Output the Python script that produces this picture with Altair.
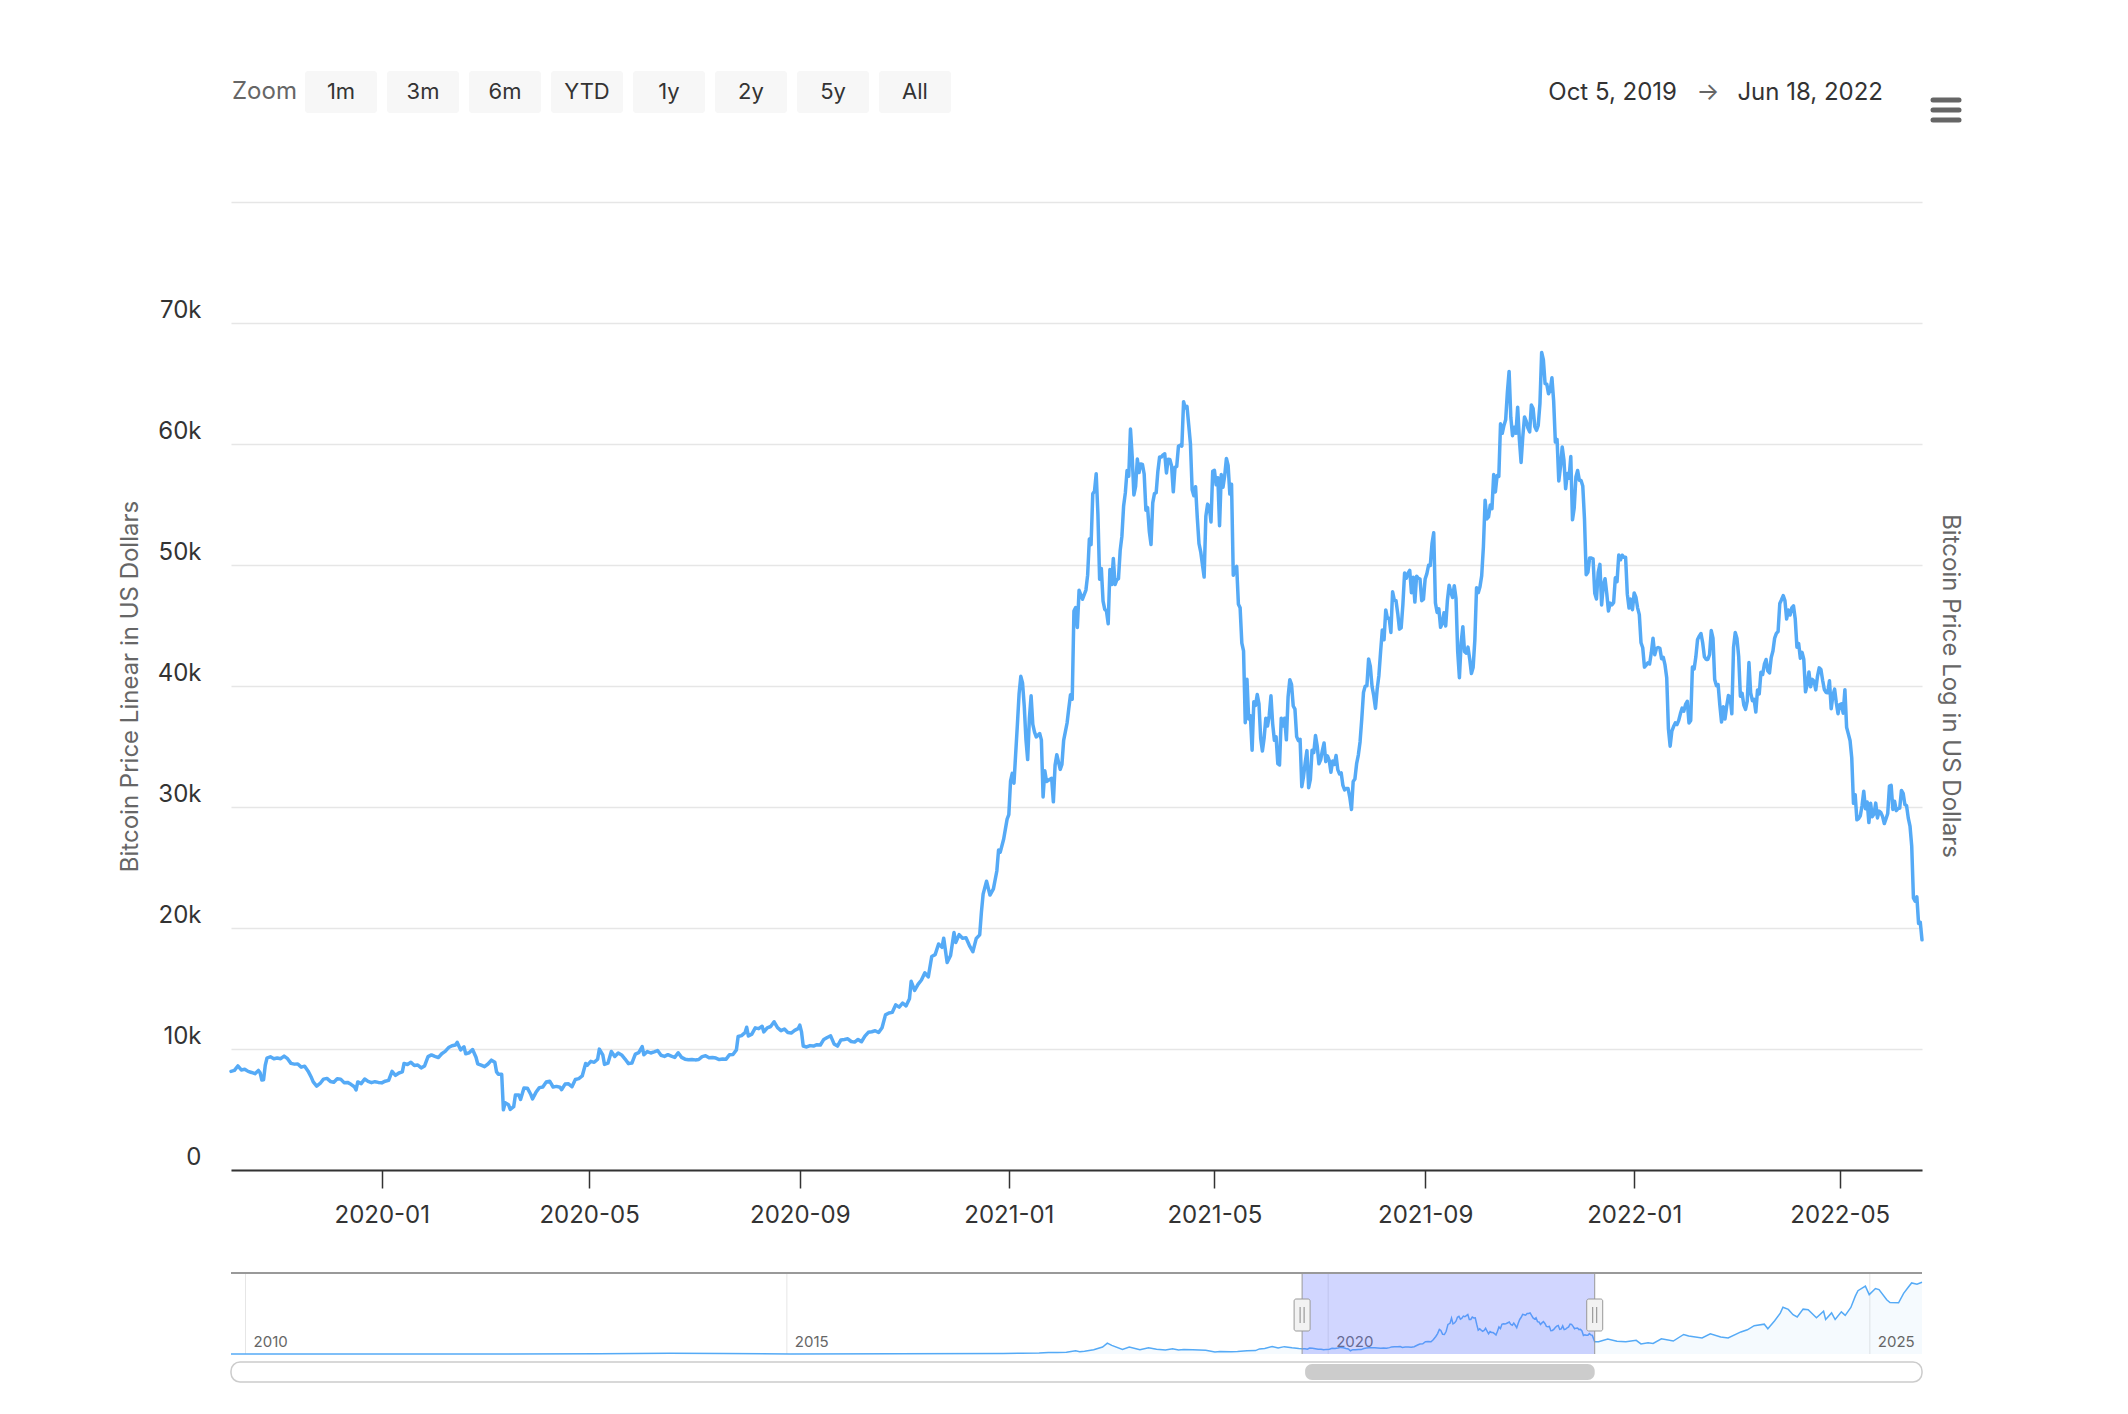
import altair as alt
import pandas as pd
from datetime import date

# ---------------- data ----------------
btc_2019 = [
    ("2019-10-05", 8150), ("2019-10-07", 8230), ("2019-10-09", 8600), ("2019-10-11", 8270),
    ("2019-10-13", 8330), ("2019-10-15", 8150), ("2019-10-17", 8060), ("2019-10-19", 7960),
    ("2019-10-21", 8230), ("2019-10-22", 8030), ("2019-10-23", 7440), ("2019-10-24", 7460),
    ("2019-10-25", 8660), ("2019-10-26", 9240), ("2019-10-28", 9360), ("2019-10-30", 9200),
    ("2019-11-01", 9260), ("2019-11-03", 9200), ("2019-11-05", 9410), ("2019-11-07", 9200),
    ("2019-11-09", 8810), ("2019-11-11", 8750), ("2019-11-13", 8760), ("2019-11-15", 8500),
    ("2019-11-17", 8580), ("2019-11-19", 8170), ("2019-11-21", 7620), ("2019-11-22", 7280),
    ("2019-11-24", 6930), ("2019-11-26", 7150), ("2019-11-28", 7510), ("2019-11-30", 7570),
    ("2019-12-02", 7320), ("2019-12-04", 7250), ("2019-12-06", 7540), ("2019-12-08", 7510),
    ("2019-12-10", 7220), ("2019-12-12", 7240), ("2019-12-14", 7080), ("2019-12-16", 6880),
    ("2019-12-17", 6620), ("2019-12-18", 7280), ("2019-12-20", 7140), ("2019-12-22", 7520),
    ("2019-12-24", 7320), ("2019-12-26", 7220), ("2019-12-28", 7300), ("2019-12-30", 7240),
]
btc_2020 = [
    ("2020-01-01", 7200), ("2020-01-03", 7340), ("2020-01-05", 7410), ("2020-01-07", 8160),
    ("2020-01-09", 7820), ("2020-01-11", 8020), ("2020-01-13", 8110), ("2020-01-14", 8810),
    ("2020-01-16", 8720), ("2020-01-18", 8900), ("2020-01-20", 8630), ("2020-01-22", 8680),
    ("2020-01-24", 8440), ("2020-01-26", 8600), ("2020-01-28", 9370), ("2020-01-30", 9510),
    ("2020-02-01", 9390), ("2020-02-03", 9290), ("2020-02-05", 9610), ("2020-02-07", 9800),
    ("2020-02-09", 10120), ("2020-02-11", 10270), ("2020-02-13", 10330), ("2020-02-14", 10550),
    ("2020-02-16", 9930), ("2020-02-18", 10180), ("2020-02-19", 9600), ("2020-02-21", 9690),
    ("2020-02-23", 9960), ("2020-02-25", 9320), ("2020-02-26", 8780), ("2020-02-28", 8670),
    ("2020-03-01", 8540), ("2020-03-03", 8760), ("2020-03-05", 9080), ("2020-03-07", 8910),
    ("2020-03-08", 8110), ("2020-03-09", 7920), ("2020-03-11", 7910), ("2020-03-12", 4970),
    ("2020-03-13", 5560), ("2020-03-15", 5390), ("2020-03-16", 5010), ("2020-03-18", 5230),
    ("2020-03-19", 6190), ("2020-03-21", 6190), ("2020-03-22", 5830), ("2020-03-24", 6770),
    ("2020-03-26", 6760), ("2020-03-28", 6240), ("2020-03-29", 5880), ("2020-03-31", 6420),
    ("2020-04-02", 6810), ("2020-04-04", 6860), ("2020-04-06", 7270), ("2020-04-08", 7340),
    ("2020-04-10", 6860), ("2020-04-12", 6910), ("2020-04-14", 6840), ("2020-04-15", 6640),
    ("2020-04-17", 7100), ("2020-04-19", 7120), ("2020-04-21", 6880), ("2020-04-23", 7480),
    ("2020-04-25", 7550), ("2020-04-27", 7770), ("2020-04-29", 8800), ("2020-04-30", 8660),
    ("2020-05-02", 8980), ("2020-05-04", 8900), ("2020-05-06", 9160), ("2020-05-07", 9990),
    ("2020-05-09", 9520), ("2020-05-10", 8730), ("2020-05-12", 8830), ("2020-05-14", 9790),
    ("2020-05-16", 9380), ("2020-05-18", 9670), ("2020-05-20", 9510), ("2020-05-22", 9170),
    ("2020-05-24", 8790), ("2020-05-26", 8840), ("2020-05-28", 9580), ("2020-05-30", 9700),
    ("2020-06-01", 10200), ("2020-06-02", 9520), ("2020-06-04", 9790), ("2020-06-06", 9670),
    ("2020-06-08", 9760), ("2020-06-10", 9870), ("2020-06-12", 9480), ("2020-06-14", 9390),
    ("2020-06-16", 9530), ("2020-06-18", 9410), ("2020-06-20", 9310), ("2020-06-22", 9690),
    ("2020-06-24", 9310), ("2020-06-26", 9160), ("2020-06-28", 9120), ("2020-06-30", 9140),
    ("2020-07-02", 9100), ("2020-07-04", 9130), ("2020-07-06", 9370), ("2020-07-08", 9440),
    ("2020-07-10", 9280), ("2020-07-12", 9300), ("2020-07-14", 9250), ("2020-07-16", 9130),
    ("2020-07-18", 9170), ("2020-07-20", 9160), ("2020-07-22", 9530), ("2020-07-24", 9550),
    ("2020-07-26", 9930), ("2020-07-27", 11030), ("2020-07-29", 11110), ("2020-07-31", 11350),
    ("2020-08-01", 11800), ("2020-08-02", 11070), ("2020-08-04", 11230), ("2020-08-06", 11750),
    ("2020-08-08", 11680), ("2020-08-10", 11880), ("2020-08-11", 11410), ("2020-08-13", 11750),
    ("2020-08-15", 11860), ("2020-08-17", 12250), ("2020-08-19", 11760), ("2020-08-21", 11520),
    ("2020-08-23", 11650), ("2020-08-25", 11360), ("2020-08-27", 11320), ("2020-08-29", 11540),
    ("2020-08-31", 11680), ("2020-09-01", 11970), ("2020-09-02", 11410), ("2020-09-03", 10250),
    ("2020-09-05", 10170), ("2020-09-07", 10280), ("2020-09-09", 10240), ("2020-09-11", 10360),
    ("2020-09-13", 10330), ("2020-09-15", 10790), ("2020-09-17", 10950), ("2020-09-19", 11080),
    ("2020-09-21", 10420), ("2020-09-23", 10240), ("2020-09-25", 10750), ("2020-09-27", 10790),
    ("2020-09-29", 10840), ("2020-10-01", 10620), ("2020-10-03", 10570), ("2020-10-05", 10790),
    ("2020-10-07", 10600), ("2020-10-09", 11060), ("2020-10-11", 11380), ("2020-10-13", 11430),
    ("2020-10-15", 11510), ("2020-10-17", 11360), ("2020-10-19", 11760), ("2020-10-21", 12820),
    ("2020-10-23", 12970), ("2020-10-25", 13030), ("2020-10-27", 13650), ("2020-10-29", 13460),
    ("2020-10-31", 13800), ("2020-11-02", 13560), ("2020-11-04", 14150), ("2020-11-05", 15590),
    ("2020-11-07", 14840), ("2020-11-09", 15340), ("2020-11-11", 15700), ("2020-11-13", 16300),
    ("2020-11-15", 15960), ("2020-11-17", 17650), ("2020-11-19", 17800), ("2020-11-21", 18680),
    ("2020-11-23", 18400), ("2020-11-24", 19160), ("2020-11-26", 17150), ("2020-11-28", 17720),
    ("2020-11-30", 19630), ("2020-12-01", 18800), ("2020-12-03", 19450), ("2020-12-05", 19160),
    ("2020-12-07", 19190), ("2020-12-09", 18550), ("2020-12-11", 18040), ("2020-12-13", 19140),
    ("2020-12-15", 19430), ("2020-12-16", 21310), ("2020-12-17", 22800), ("2020-12-19", 23860),
    ("2020-12-21", 22720), ("2020-12-23", 23240), ("2020-12-25", 24710), ("2020-12-26", 26440),
    ("2020-12-27", 26270), ("2020-12-29", 27360), ("2020-12-31", 29000),
]
btc_2021_h1 = [
    ("2021-01-01", 29370), ("2021-01-02", 32130), ("2021-01-03", 32780), ("2021-01-04", 31970),
    ("2021-01-06", 36820), ("2021-01-07", 39370), ("2021-01-08", 40800), ("2021-01-09", 40250),
    ("2021-01-10", 38360), ("2021-01-11", 35570), ("2021-01-12", 33920), ("2021-01-13", 37320),
    ("2021-01-14", 39190), ("2021-01-15", 36830), ("2021-01-16", 36180), ("2021-01-17", 35790),
    ("2021-01-19", 36070), ("2021-01-20", 35550), ("2021-01-21", 30830), ("2021-01-22", 33000),
    ("2021-01-23", 32100), ("2021-01-25", 32290), ("2021-01-26", 32370), ("2021-01-27", 30430),
    ("2021-01-28", 33460), ("2021-01-29", 34320), ("2021-01-31", 33110), ("2021-02-01", 33520),
    ("2021-02-02", 35510), ("2021-02-04", 36940), ("2021-02-05", 38140), ("2021-02-06", 39270),
    ("2021-02-07", 38900), ("2021-02-08", 46200), ("2021-02-09", 46480), ("2021-02-10", 44840),
    ("2021-02-11", 47910), ("2021-02-13", 47170), ("2021-02-15", 47930), ("2021-02-16", 49160),
    ("2021-02-17", 52150), ("2021-02-18", 51680), ("2021-02-19", 55890), ("2021-02-20", 56100),
    ("2021-02-21", 57540), ("2021-02-22", 54210), ("2021-02-23", 48820), ("2021-02-24", 49710),
    ("2021-02-25", 47020), ("2021-02-26", 46340), ("2021-02-27", 46190), ("2021-02-28", 45140),
    ("2021-03-01", 49630), ("2021-03-02", 48380), ("2021-03-03", 50540), ("2021-03-04", 48380),
    ("2021-03-05", 48760), ("2021-03-06", 48880), ("2021-03-07", 51210), ("2021-03-08", 52380),
    ("2021-03-09", 54880), ("2021-03-10", 55960), ("2021-03-11", 57800), ("2021-03-12", 57330),
    ("2021-03-13", 61240), ("2021-03-14", 59000), ("2021-03-15", 55790), ("2021-03-16", 56500),
    ("2021-03-17", 58760), ("2021-03-18", 57640), ("2021-03-19", 58350), ("2021-03-20", 58310),
    ("2021-03-21", 57520), ("2021-03-22", 54530), ("2021-03-23", 54740), ("2021-03-24", 52770),
    ("2021-03-25", 51700), ("2021-03-26", 55140), ("2021-03-27", 55900), ("2021-03-28", 55970),
    ("2021-03-29", 57750), ("2021-03-30", 58920), ("2021-03-31", 58920), ("2021-04-01", 59100),
    ("2021-04-02", 59190), ("2021-04-03", 57610), ("2021-04-04", 58740), ("2021-04-05", 58720),
    ("2021-04-06", 58180), ("2021-04-07", 56050), ("2021-04-08", 58070), ("2021-04-09", 58140),
    ("2021-04-10", 59810), ("2021-04-11", 59900), ("2021-04-12", 59830), ("2021-04-13", 63500),
    ("2021-04-14", 62970), ("2021-04-15", 63110), ("2021-04-16", 61570), ("2021-04-17", 60030),
    ("2021-04-18", 56220), ("2021-04-19", 55720), ("2021-04-20", 56470), ("2021-04-21", 53910),
    ("2021-04-22", 51760), ("2021-04-23", 51090), ("2021-04-24", 50050), ("2021-04-25", 49000),
    ("2021-04-26", 54020), ("2021-04-27", 55030), ("2021-04-28", 54820), ("2021-04-29", 53560),
    ("2021-04-30", 57750), ("2021-05-01", 57830), ("2021-05-02", 56630), ("2021-05-03", 57210),
    ("2021-05-04", 53240), ("2021-05-05", 57470), ("2021-05-06", 56430), ("2021-05-07", 57380),
    ("2021-05-08", 58800), ("2021-05-09", 58230), ("2021-05-10", 55860), ("2021-05-11", 56670),
    ("2021-05-12", 49150), ("2021-05-13", 49720), ("2021-05-14", 49880), ("2021-05-15", 46760),
    ("2021-05-16", 46460), ("2021-05-17", 43540), ("2021-05-18", 42910), ("2021-05-19", 36960),
    ("2021-05-20", 40560), ("2021-05-21", 37280), ("2021-05-22", 37530), ("2021-05-23", 34700),
    ("2021-05-24", 38700), ("2021-05-25", 38400), ("2021-05-26", 39290), ("2021-05-27", 38530),
    ("2021-05-28", 35680), ("2021-05-29", 34620), ("2021-05-30", 35680), ("2021-05-31", 37340),
    ("2021-06-01", 36690), ("2021-06-02", 37570), ("2021-06-03", 39190), ("2021-06-04", 36870),
    ("2021-06-05", 35520), ("2021-06-06", 35800), ("2021-06-07", 33590), ("2021-06-08", 33470),
    ("2021-06-09", 37340), ("2021-06-10", 36700), ("2021-06-11", 37340), ("2021-06-12", 35550),
    ("2021-06-13", 39100), ("2021-06-14", 40520), ("2021-06-15", 40140), ("2021-06-16", 38350),
    ("2021-06-17", 38090), ("2021-06-18", 35820), ("2021-06-19", 35480), ("2021-06-20", 35600),
    ("2021-06-21", 31680), ("2021-06-22", 32510), ("2021-06-23", 33680), ("2021-06-24", 34660),
    ("2021-06-25", 31590), ("2021-06-26", 32280), ("2021-06-27", 34700), ("2021-06-28", 34500),
    ("2021-06-29", 35910), ("2021-06-30", 35040),
]
btc_2021_h2 = [
    ("2021-07-01", 33570), ("2021-07-02", 33900), ("2021-07-03", 34660), ("2021-07-04", 35290),
    ("2021-07-05", 33750), ("2021-07-06", 34230), ("2021-07-07", 33860), ("2021-07-08", 32880),
    ("2021-07-09", 33810), ("2021-07-10", 33520), ("2021-07-11", 34260), ("2021-07-12", 33090),
    ("2021-07-13", 32730), ("2021-07-14", 32820), ("2021-07-15", 31780), ("2021-07-16", 31420),
    ("2021-07-17", 31530), ("2021-07-18", 31530), ("2021-07-19", 30820), ("2021-07-20", 29800),
    ("2021-07-21", 32110), ("2021-07-22", 32310), ("2021-07-23", 33580), ("2021-07-24", 34290),
    ("2021-07-25", 35380), ("2021-07-26", 37270), ("2021-07-27", 39460), ("2021-07-28", 39990),
    ("2021-07-29", 40010), ("2021-07-30", 42240), ("2021-07-31", 41630), ("2021-08-01", 39970),
    ("2021-08-02", 39200), ("2021-08-03", 38150), ("2021-08-04", 39740), ("2021-08-05", 40870),
    ("2021-08-06", 42840), ("2021-08-07", 44630), ("2021-08-08", 43820), ("2021-08-09", 46290),
    ("2021-08-10", 45600), ("2021-08-11", 45590), ("2021-08-12", 44430), ("2021-08-13", 47790),
    ("2021-08-14", 47100), ("2021-08-15", 47050), ("2021-08-16", 46000), ("2021-08-17", 44700),
    ("2021-08-18", 44800), ("2021-08-19", 46720), ("2021-08-20", 49340), ("2021-08-21", 48900),
    ("2021-08-22", 49320), ("2021-08-23", 49550), ("2021-08-24", 47710), ("2021-08-25", 48990),
    ("2021-08-26", 46940), ("2021-08-27", 49080), ("2021-08-28", 48900), ("2021-08-29", 48830),
    ("2021-08-30", 47050), ("2021-08-31", 47170), ("2021-09-01", 48850), ("2021-09-02", 49290),
    ("2021-09-03", 49980), ("2021-09-04", 49960), ("2021-09-05", 51770), ("2021-09-06", 52660),
    ("2021-09-07", 46860), ("2021-09-08", 46070), ("2021-09-09", 46370), ("2021-09-10", 44850),
    ("2021-09-11", 45160), ("2021-09-12", 46060), ("2021-09-13", 44960), ("2021-09-14", 47090),
    ("2021-09-15", 48330), ("2021-09-16", 47760), ("2021-09-17", 47310), ("2021-09-18", 48290),
    ("2021-09-19", 47260), ("2021-09-20", 42840), ("2021-09-21", 40690), ("2021-09-22", 43570),
    ("2021-09-23", 44900), ("2021-09-24", 42840), ("2021-09-25", 42720), ("2021-09-26", 43210),
    ("2021-09-27", 42240), ("2021-09-28", 41030), ("2021-09-29", 41520), ("2021-09-30", 43790),
    ("2021-10-01", 48120), ("2021-10-02", 47710), ("2021-10-03", 48200), ("2021-10-04", 49110),
    ("2021-10-05", 51510), ("2021-10-06", 55360), ("2021-10-07", 53810), ("2021-10-08", 53970),
    ("2021-10-09", 54960), ("2021-10-10", 54660), ("2021-10-11", 57470), ("2021-10-12", 56040),
    ("2021-10-13", 57400), ("2021-10-14", 57320), ("2021-10-15", 61670), ("2021-10-16", 60880),
    ("2021-10-17", 61530), ("2021-10-18", 62010), ("2021-10-19", 64280), ("2021-10-20", 66000),
    ("2021-10-21", 62210), ("2021-10-22", 60690), ("2021-10-23", 61390), ("2021-10-24", 60890),
    ("2021-10-25", 63040), ("2021-10-26", 60360), ("2021-10-27", 58480), ("2021-10-28", 60620),
    ("2021-10-29", 62230), ("2021-10-30", 61890), ("2021-10-31", 61320), ("2021-11-01", 61000),
    ("2021-11-02", 63230), ("2021-11-03", 62940), ("2021-11-04", 61450), ("2021-11-05", 61130),
    ("2021-11-06", 61530), ("2021-11-07", 63330), ("2021-11-08", 67570), ("2021-11-09", 66970),
    ("2021-11-10", 64990), ("2021-11-11", 64950), ("2021-11-12", 64160), ("2021-11-13", 64470),
    ("2021-11-14", 65470), ("2021-11-15", 63560), ("2021-11-16", 60160), ("2021-11-17", 60370),
    ("2021-11-18", 56940), ("2021-11-19", 58120), ("2021-11-20", 59760), ("2021-11-21", 58680),
    ("2021-11-22", 56300), ("2021-11-23", 57570), ("2021-11-24", 57170), ("2021-11-25", 58960),
    ("2021-11-26", 53730), ("2021-11-27", 54720), ("2021-11-28", 57270), ("2021-11-29", 57810),
    ("2021-11-30", 57010), ("2021-12-01", 56980), ("2021-12-02", 56530), ("2021-12-03", 53800),
    ("2021-12-04", 49200), ("2021-12-05", 49400), ("2021-12-06", 50580), ("2021-12-07", 50570),
    ("2021-12-08", 50510), ("2021-12-09", 47670), ("2021-12-10", 47190), ("2021-12-11", 49390),
    ("2021-12-12", 50050), ("2021-12-13", 46700), ("2021-12-14", 48340), ("2021-12-15", 48860),
    ("2021-12-16", 47640), ("2021-12-17", 46200), ("2021-12-18", 46850), ("2021-12-19", 46710),
    ("2021-12-20", 46880), ("2021-12-21", 48940), ("2021-12-22", 48630), ("2021-12-23", 50820),
    ("2021-12-24", 50430), ("2021-12-25", 50810), ("2021-12-26", 50640), ("2021-12-27", 50640),
    ("2021-12-28", 47590), ("2021-12-29", 46440), ("2021-12-30", 47180), ("2021-12-31", 46310),
]
btc_2022 = [
    ("2022-01-01", 47690), ("2022-01-02", 47350), ("2022-01-03", 46460), ("2022-01-04", 45900),
    ("2022-01-05", 43570), ("2022-01-06", 43160), ("2022-01-07", 41560), ("2022-01-08", 41730),
    ("2022-01-09", 41910), ("2022-01-10", 41820), ("2022-01-11", 42740), ("2022-01-12", 43950),
    ("2022-01-13", 42590), ("2022-01-14", 43100), ("2022-01-15", 43180), ("2022-01-16", 43110),
    ("2022-01-17", 42250), ("2022-01-18", 42370), ("2022-01-19", 41740), ("2022-01-20", 40680),
    ("2022-01-21", 36460), ("2022-01-22", 35030), ("2022-01-23", 36280), ("2022-01-24", 36650),
    ("2022-01-25", 36950), ("2022-01-26", 36810), ("2022-01-27", 37160), ("2022-01-28", 37720),
    ("2022-01-29", 38170), ("2022-01-30", 37920), ("2022-01-31", 38480), ("2022-02-01", 38740),
    ("2022-02-02", 36950), ("2022-02-03", 37150), ("2022-02-04", 41570), ("2022-02-05", 41410),
    ("2022-02-06", 42410), ("2022-02-07", 43840), ("2022-02-08", 44120), ("2022-02-09", 44340),
    ("2022-02-10", 43560), ("2022-02-11", 42410), ("2022-02-12", 42200), ("2022-02-13", 42200),
    ("2022-02-14", 42590), ("2022-02-15", 44580), ("2022-02-16", 43960), ("2022-02-17", 40540),
    ("2022-02-18", 40030), ("2022-02-19", 40120), ("2022-02-20", 38430), ("2022-02-21", 37020),
    ("2022-02-22", 38280), ("2022-02-23", 37280), ("2022-02-24", 38330), ("2022-02-25", 39210),
    ("2022-02-26", 39100), ("2022-02-27", 37710), ("2022-02-28", 43190), ("2022-03-01", 44420),
    ("2022-03-02", 43920), ("2022-03-03", 42450), ("2022-03-04", 39150), ("2022-03-05", 39400),
    ("2022-03-06", 38420), ("2022-03-07", 38060), ("2022-03-08", 38740), ("2022-03-09", 41940),
    ("2022-03-10", 39440), ("2022-03-11", 38790), ("2022-03-12", 38900), ("2022-03-13", 37850),
    ("2022-03-14", 39670), ("2022-03-15", 39340), ("2022-03-16", 41140), ("2022-03-17", 40950),
    ("2022-03-18", 41800), ("2022-03-19", 42190), ("2022-03-20", 41250), ("2022-03-21", 41080),
    ("2022-03-22", 42360), ("2022-03-23", 42890), ("2022-03-24", 43960), ("2022-03-25", 44350),
    ("2022-03-26", 44500), ("2022-03-27", 46820), ("2022-03-28", 47130), ("2022-03-29", 47470),
    ("2022-03-30", 47060), ("2022-03-31", 45540), ("2022-04-01", 46280), ("2022-04-02", 45870),
    ("2022-04-03", 46450), ("2022-04-04", 46620), ("2022-04-05", 45560), ("2022-04-06", 43210),
    ("2022-04-07", 43510), ("2022-04-08", 42290), ("2022-04-09", 42780), ("2022-04-10", 42210),
    ("2022-04-11", 39520), ("2022-04-12", 40130), ("2022-04-13", 41160), ("2022-04-14", 39940),
    ("2022-04-15", 40550), ("2022-04-16", 40400), ("2022-04-17", 39680), ("2022-04-18", 40800),
    ("2022-04-19", 41500), ("2022-04-20", 41360), ("2022-04-21", 40480), ("2022-04-22", 39710),
    ("2022-04-23", 39470), ("2022-04-24", 39450), ("2022-04-25", 40430), ("2022-04-26", 38120),
    ("2022-04-27", 39240), ("2022-04-28", 39740), ("2022-04-29", 38600), ("2022-04-30", 37710),
    ("2022-05-01", 38470), ("2022-05-02", 38530), ("2022-05-03", 37750), ("2022-05-04", 39700),
    ("2022-05-05", 36580), ("2022-05-06", 36040), ("2022-05-07", 35500), ("2022-05-08", 34060),
    ("2022-05-09", 30300), ("2022-05-10", 31020), ("2022-05-11", 28940), ("2022-05-12", 29050),
    ("2022-05-13", 29280), ("2022-05-14", 30100), ("2022-05-15", 31310), ("2022-05-16", 29860),
    ("2022-05-17", 30420), ("2022-05-18", 28720), ("2022-05-19", 30310), ("2022-05-20", 29200),
    ("2022-05-21", 29430), ("2022-05-22", 30320), ("2022-05-23", 29100), ("2022-05-24", 29660),
    ("2022-05-25", 29540), ("2022-05-26", 29200), ("2022-05-27", 28630), ("2022-05-28", 29030),
    ("2022-05-29", 29470), ("2022-05-30", 31730), ("2022-05-31", 31790), ("2022-06-01", 29800),
    ("2022-06-02", 30470), ("2022-06-03", 29700), ("2022-06-04", 29860), ("2022-06-05", 29910),
    ("2022-06-06", 31370), ("2022-06-07", 31130), ("2022-06-08", 30210), ("2022-06-09", 30110),
    ("2022-06-10", 29080), ("2022-06-11", 28420), ("2022-06-12", 26760), ("2022-06-13", 22490),
    ("2022-06-14", 22210), ("2022-06-15", 22580), ("2022-06-16", 20380), ("2022-06-17", 20470),
    ("2022-06-18", 19020),
]

# navigator (full history) outside the zoomed window
nav_before = [
    ("2009-11-13", 0), ("2010-07-18", 0), ("2011-06-08", 29), ("2012-01-01", 5),
    ("2013-04-09", 230), ("2013-12-01", 1100), ("2014-06-01", 650), ("2015-01-14", 180),
    ("2016-01-01", 430), ("2016-12-31", 960), ("2017-03-01", 1190), ("2017-05-01", 1420),
    ("2017-06-01", 2400), ("2017-07-01", 2500), ("2017-08-01", 2720), ("2017-09-01", 4900),
    ("2017-09-15", 3700), ("2017-10-01", 4400), ("2017-11-01", 6700), ("2017-12-01", 10800),
    ("2017-12-17", 17000), ("2018-01-01", 13500), ("2018-02-06", 7000), ("2018-03-01", 10900),
    ("2018-04-06", 6600), ("2018-05-05", 9800), ("2018-06-01", 7500), ("2018-07-01", 6350),
    ("2018-07-25", 8200), ("2018-08-14", 6300), ("2018-09-01", 7200), ("2018-10-01", 6600),
    ("2018-11-14", 5700), ("2018-12-15", 3250), ("2019-01-01", 3800), ("2019-02-08", 3650),
    ("2019-03-01", 3800), ("2019-04-02", 4900), ("2019-05-01", 5300), ("2019-05-14", 8000),
    ("2019-06-01", 8500), ("2019-06-26", 11800), ("2019-07-16", 9500), ("2019-08-06", 11500),
    ("2019-09-01", 9600), ("2019-09-24", 8500),
]
nav_after = [
    ("2022-07-01", 19300), ("2022-08-01", 23300), ("2022-09-01", 20100), ("2022-10-01", 19300),
    ("2022-11-05", 21300), ("2022-11-21", 15800), ("2022-12-15", 17400), ("2023-01-01", 16600),
    ("2023-01-29", 23700), ("2023-03-10", 20200), ("2023-04-14", 30500), ("2023-05-01", 28100),
    ("2023-06-15", 25100), ("2023-07-13", 31400), ("2023-08-17", 26600), ("2023-09-11", 25100),
    ("2023-10-24", 34500), ("2023-11-15", 37800), ("2023-12-08", 44200), ("2024-01-11", 46600),
    ("2024-01-23", 39500), ("2024-02-15", 51900), ("2024-03-05", 63800), ("2024-03-14", 73100),
    ("2024-04-01", 69700), ("2024-04-17", 61300), ("2024-05-01", 57900), ("2024-05-21", 70100),
    ("2024-06-07", 69300), ("2024-07-05", 56700), ("2024-07-29", 66800), ("2024-08-05", 54000),
    ("2024-08-25", 64200), ("2024-09-06", 53900), ("2024-09-27", 65800), ("2024-10-10", 60300),
    ("2024-10-29", 72700), ("2024-11-13", 90400), ("2024-11-22", 98900), ("2024-12-17", 106100),
    ("2024-12-30", 92800), ("2025-01-20", 102300), ("2025-02-01", 100600), ("2025-02-27", 84700),
    ("2025-03-10", 80500), ("2025-04-08", 80000), ("2025-04-25", 94700), ("2025-05-10", 104000),
    ("2025-05-22", 111000), ("2025-06-09", 109000), ("2025-06-26", 112000),
]
nav_years = ["2010", "2015", "2020", "2025"]
nav_domain = ["2009-11-13", "2025-06-26"]

zoom_buttons = ["1m", "3m", "6m", "YTD", "1y", "2y", "5y", "All"]
y_ticks = [0, 10000, 20000, 30000, 40000, 50000, 60000, 70000, 80000]
x_tick_months = [(2020, 1), (2020, 5), (2020, 9), (2021, 1), (2021, 5), (2021, 9), (2022, 1), (2022, 5)]
title_left = "Bitcoin Price Linear in US Dollars"
title_right = "Bitcoin Price Log in US Dollars"

# ---------------- build ----------------
main = btc_2019 + btc_2020 + btc_2021_h1 + btc_2021_h2 + btc_2022
dates = [d for d, _ in main]
prices = [p for _, p in main]
nav = nav_before + main[::5] + [main[-1]] + nav_after

FONT = "Inter"
BLUE = "#55aaf6"
W, H = 1691, 968
NAV_TOP, NAV_BOT = 1072, 1152


def dt(s):
    y, m, d = (int(v) for v in s.split("-"))
    return alt.DateTime(year=y, month=m, date=d, utc=True)


def label_of(s):
    d = date.fromisoformat(s)
    return f"{d:%b} {d.day}, {d.year}"


one = pd.DataFrame({"k": [0]})


def txt(s, x, y, size=22, color="#333333", align="center", angle=0):
    return alt.Chart(pd.DataFrame({"t": [s]})).mark_text(
        align=align, baseline="middle", fontSize=size, color=color, font=FONT, angle=angle
    ).encode(x=alt.value(x), y=alt.value(y), text="t:N")


def hrule(x1, x2, y, color, width, cap="butt"):
    return alt.Chart(one).mark_rule(color=color, strokeWidth=width, strokeCap=cap).encode(
        x=alt.value(x1), x2=alt.value(x2), y=alt.value(y)
    )


df_main = pd.DataFrame({"date": dates, "price": prices})
df_nav = pd.DataFrame({"nd": [d for d, _ in nav], "np": [p for _, p in nav]})
df_years = pd.DataFrame({"yr": [f"{y}-01-01" for y in nav_years], "lab": nav_years})
df_win = pd.DataFrame({"s": [dates[0]], "e": [dates[-1]]})
df_edges = pd.DataFrame({"edge": [dates[0], dates[-1]]})

nav_x_scale = alt.Scale(type="utc", domain=[dt(v) for v in nav_domain], range=[0, W], nice=False)
nav_y_scale = alt.Scale(domain=[0, 125000], range=[NAV_BOT, NAV_TOP], nice=False)


def nx(field):
    return alt.X(f"{field}:T", scale=nav_x_scale, axis=None)


# navigator pieces
nav_grid = alt.Chart(df_years).mark_rule(color="#e6e6e6", strokeWidth=1).encode(
    x=nx("yr"), y=alt.value(NAV_TOP), y2=alt.value(NAV_BOT)
)
nav_labels = alt.Chart(df_years).mark_text(
    align="left", baseline="middle", dx=8, fontSize=15, color="#666666", font=FONT
).encode(x=nx("yr"), y=alt.value(1140), text="lab:N")
nav_area = alt.Chart(df_nav).mark_area(color=BLUE, opacity=0.06).encode(
    x=nx("nd"), y=alt.Y("np:Q", scale=nav_y_scale, axis=None)
)
nav_line = alt.Chart(df_nav).mark_line(color=BLUE, strokeWidth=1.5).encode(
    x=nx("nd"), y=alt.Y("np:Q", scale=nav_y_scale, axis=None)
)
nav_mask = alt.Chart(df_win).mark_rect(color="#6677ff", opacity=0.3).encode(
    x=nx("s"), x2="e:T", y=alt.value(NAV_TOP), y2=alt.value(NAV_BOT)
)
nav_outline = hrule(0, W, NAV_TOP - 1, "#999999", 2)
nav_sides = alt.Chart(df_edges).mark_rule(color="#999999", strokeWidth=1).encode(
    x=nx("edge"), y=alt.value(NAV_TOP), y2=alt.value(NAV_BOT)
)
nav_handles = alt.Chart(df_edges).mark_rect(
    fill="#f2f2f2", stroke="#999999", strokeWidth=1, cornerRadius=2, xOffset=-8, x2Offset=8
).encode(x=nx("edge"), x2="edge:T", y=alt.value(1097), y2=alt.value(1129))
grip_a = alt.Chart(df_edges).mark_rule(color="#888888", strokeWidth=1, xOffset=-2).encode(
    x=nx("edge"), y=alt.value(1105), y2=alt.value(1121)
)
grip_b = alt.Chart(df_edges).mark_rule(color="#888888", strokeWidth=1, xOffset=2).encode(
    x=nx("edge"), y=alt.value(1105), y2=alt.value(1121)
)

# scrollbar
track = alt.Chart(one).mark_rect(
    fill="#ffffff", stroke="#cccccc", strokeWidth=1.5, cornerRadius=9
).encode(x=alt.value(0), x2=alt.value(W), y=alt.value(1160), y2=alt.value(1180))
thumb = alt.Chart(df_win).mark_rect(fill="#cccccc", cornerRadius=7, xOffset=3).encode(
    x=nx("s"), x2="e:T", y=alt.value(1162), y2=alt.value(1178)
)

# main series
main_line = alt.Chart(df_main).mark_line(
    color=BLUE, strokeWidth=3.5, strokeJoin="round", strokeCap="round"
).encode(
    x=alt.X(
        "date:T",
        scale=alt.Scale(type="utc", domain=[dt(dates[0]), dt(dates[-1])]),
        axis=alt.Axis(
            values=[alt.DateTime(year=y, month=m, date=1, utc=True) for y, m in x_tick_months],
            labelExpr="utcFormat(datum.value, '%Y-%m')",
            title=None, grid=False,
            domainColor="#333333", domainWidth=2,
            tickColor="#333333", tickWidth=1.5, tickSize=18,
            labelFont=FONT, labelFontSize=24, labelColor="#333333",
            labelPadding=27, labelBaseline="middle", labelFlush=False,
        ),
    ),
    y=alt.Y(
        "price:Q",
        scale=alt.Scale(domain=[0, 80000], nice=False),
        axis=alt.Axis(
            values=y_ticks,
            labelExpr="datum.value >= 80000 ? '' : (datum.value == 0 ? '0' : format(datum.value / 1000, 'd') + 'k')",
            grid=True, gridColor="#e6e6e6", gridWidth=1.4,
            domain=False, ticks=False, tickSize=0,
            labelFont=FONT, labelFontSize=24, labelColor="#333333",
            labelPadding=30, labelOffset=-13, labelFlush=False,
            title=title_left, titleFont=FONT, titleFontSize=24, titleColor="#666666",
            titleFontWeight="normal", titleAngle=270, titleX=-101, titleY=H / 2,
            titleAlign="center", titleBaseline="middle",
        ),
    ),
)

# header: zoom buttons
btn_base = alt.Chart(pd.DataFrame({"lab": zoom_buttons})).transform_window(
    idx="row_number()"
).transform_calculate(
    bx="74 + 82 * (datum.idx - 1)", bx2="146 + 82 * (datum.idx - 1)", tx="110 + 82 * (datum.idx - 1)"
)
btn_rects = btn_base.mark_rect(fill="#f7f7f7", cornerRadius=3).encode(
    x=alt.X("bx:Q", scale=None, axis=None), x2="bx2:Q", y=alt.value(-131), y2=alt.value(-89)
)
btn_text = btn_base.mark_text(
    align="center", baseline="middle", fontSize=22, color="#333333", font=FONT
).encode(x=alt.X("tx:Q", scale=None, axis=None), y=alt.value(-110), text="lab:N")

zoom_lbl = txt("Zoom", 1, -110, size=24, color="#666666", align="left")
range_from = txt(label_of(dates[0]), 1446, -109, size=24, align="right")
range_arrow = txt("→", 1477, -109, size=24, color="#666666")
range_to = txt(label_of(dates[-1]), 1652, -109, size=24, align="right")

burger = alt.layer(
    hrule(1702, 1728, -102, "#666666", 5, "round"),
    hrule(1702, 1728, -92, "#666666", 5, "round"),
    hrule(1702, 1728, -82, "#666666", 5, "round"),
)

right_title = txt(title_right, 1719, H / 2, size=24, color="#666666", angle=90)

chart = alt.layer(
    nav_grid, nav_area, nav_line, nav_labels, nav_mask, nav_outline, nav_sides,
    nav_handles, grip_a, grip_b, track, thumb,
    main_line,
    btn_rects, btn_text, zoom_lbl, range_from, range_arrow, range_to,
    burger, right_title,
).resolve_scale(
    x="independent", y="independent"
).properties(
    width=W, height=H,
    autosize=alt.AutoSizeParams(type="none"),
    padding={"left": 231, "top": 202, "right": 206, "bottom": 244},
    background="#ffffff",
).configure(font=FONT).configure_view(stroke=None)

chart.save("out.html", embed_options={"renderer": "svg", "actions": False})
